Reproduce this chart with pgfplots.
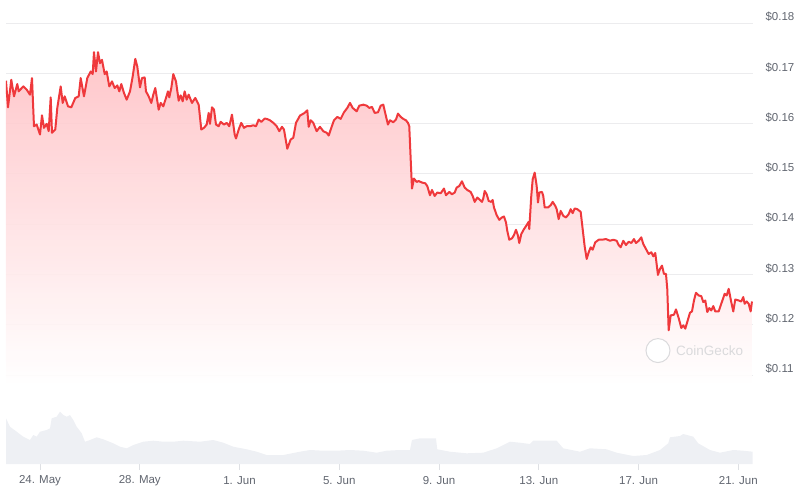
\documentclass[border=0pt]{standalone}
\usepackage{pgfplots}
\pgfplotsset{compat=1.18}
\usepackage{pgfplotstable}
\usepackage{fontspec}
\setmainfont{Liberation Sans}

\definecolor{pricered}{RGB}{239,57,60}
\definecolor{fillpink}{RGB}{255,192,196}
\definecolor{volgray}{RGB}{238,240,244}
\definecolor{gridgray}{RGB}{236,236,238}
\definecolor{labelgray}{RGB}{96,101,111}
\definecolor{tickgray}{RGB}{222,224,228}
\definecolor{markgray}{RGB}{218,218,220}

% day 0 = 24 May
\pgfplotstableread{
day price
-1.363 0.16851
-1.283 0.16323
-1.151 0.16871
-1.042 0.16541
-0.910 0.16786
-0.854 0.16640
-0.670 0.16739
-0.533 0.16673
-0.401 0.16574
-0.321 0.16905
-0.241 0.15947
-0.132 0.15980
0.000 0.15782
0.080 0.16164
0.160 0.15915
0.269 0.15994
0.349 0.15848
0.429 0.16521
0.481 0.15816
0.613 0.15881
0.694 0.16311
0.830 0.16739
0.910 0.16410
0.990 0.16541
1.123 0.16343
1.255 0.16323
1.416 0.16509
1.552 0.16541
1.632 0.16905
1.764 0.16541
1.897 0.16905
2.033 0.17036
2.113 0.16984
2.165 0.17420
2.245 0.17036
2.326 0.17420
2.406 0.17202
2.486 0.17267
2.594 0.16984
2.674 0.17036
2.779 0.16739
2.887 0.16838
2.995 0.16707
3.099 0.16758
3.180 0.16640
3.260 0.16786
3.368 0.16608
3.476 0.16475
3.609 0.16640
3.717 0.16937
3.821 0.17287
3.901 0.17135
4.010 0.16719
4.090 0.16905
4.198 0.16917
4.250 0.16640
4.358 0.16541
4.463 0.16410
4.543 0.16574
4.623 0.16707
4.759 0.16277
4.840 0.16410
4.944 0.16343
5.052 0.16509
5.132 0.16640
5.184 0.16521
5.265 0.16707
5.345 0.16984
5.453 0.16838
5.561 0.16455
5.642 0.16560
5.722 0.16442
5.802 0.16640
5.882 0.16475
5.962 0.16574
6.095 0.16410
6.227 0.16509
6.363 0.16376
6.467 0.15881
6.576 0.15915
6.684 0.15980
6.764 0.16212
6.816 0.15994
6.897 0.16323
6.977 0.16277
7.057 0.15980
7.165 0.15947
7.245 0.16034
7.378 0.15980
7.486 0.16014
7.590 0.15947
7.698 0.16178
7.807 0.15782
7.859 0.15703
7.967 0.15881
8.071 0.16014
8.179 0.15915
8.288 0.15947
8.420 0.15947
8.553 0.15966
8.661 0.15947
8.769 0.16079
8.873 0.16034
9.010 0.16099
9.090 0.16093
9.222 0.16065
9.355 0.16014
9.491 0.15947
9.595 0.15848
9.703 0.15935
9.783 0.15881
9.916 0.15499
10.052 0.15683
10.156 0.15717
10.265 0.16014
10.425 0.16158
10.613 0.16212
10.718 0.16263
10.774 0.15935
10.854 0.16065
10.958 0.16014
11.094 0.15848
11.227 0.15935
11.359 0.15848
11.496 0.15816
11.576 0.15762
11.680 0.15915
11.788 0.16065
11.921 0.16133
12.057 0.16093
12.189 0.16224
12.322 0.16311
12.430 0.16410
12.538 0.16311
12.698 0.16244
12.803 0.16356
12.963 0.16376
13.100 0.16356
13.204 0.16311
13.312 0.16331
13.420 0.16212
13.553 0.16224
13.661 0.16356
13.765 0.16376
13.873 0.16145
13.953 0.15980
14.034 0.16065
14.166 0.16026
14.274 0.16079
14.354 0.16198
14.463 0.16133
14.567 0.16093
14.675 0.16065
14.755 0.16014
14.807 0.15947
14.864 0.15287
14.916 0.14707
14.996 0.14905
15.104 0.14838
15.184 0.14857
15.317 0.14826
15.449 0.14812
15.529 0.14758
15.637 0.14574
15.718 0.14679
15.826 0.14560
15.930 0.14628
16.067 0.14614
16.199 0.14707
16.279 0.14574
16.411 0.14640
16.520 0.14594
16.628 0.14628
16.708 0.14727
16.812 0.14758
16.920 0.14851
17.029 0.14727
17.133 0.14679
17.269 0.14640
17.350 0.14560
17.430 0.14442
17.534 0.14529
17.642 0.14481
17.722 0.14442
17.774 0.14509
17.831 0.14659
17.911 0.14594
17.991 0.14461
18.095 0.14442
18.151 0.14481
18.204 0.14331
18.312 0.14178
18.416 0.14085
18.524 0.14133
18.605 0.14152
18.685 0.14034
18.737 0.13867
18.817 0.13689
18.925 0.13717
19.006 0.13782
19.086 0.13887
19.166 0.13768
19.218 0.13624
19.298 0.13802
19.407 0.13901
19.515 0.13980
19.595 0.14046
19.619 0.13901
19.699 0.14560
19.756 0.14891
19.836 0.15024
19.916 0.14758
19.968 0.14430
20.020 0.14628
20.128 0.14640
20.180 0.14560
20.237 0.14331
20.369 0.14331
20.477 0.14376
20.557 0.14442
20.662 0.14362
20.718 0.14297
20.798 0.14099
20.878 0.14263
20.982 0.14164
21.091 0.14133
21.199 0.14198
21.279 0.14297
21.359 0.14218
21.439 0.14311
21.544 0.14297
21.680 0.14244
21.760 0.13901
21.840 0.13558
21.921 0.13307
22.001 0.13440
22.081 0.13539
22.161 0.13491
22.265 0.13638
22.402 0.13689
22.534 0.13689
22.694 0.13703
22.855 0.13669
22.987 0.13689
23.123 0.13669
23.204 0.13584
23.284 0.13539
23.388 0.13669
23.496 0.13584
23.605 0.13650
23.709 0.13624
23.817 0.13703
23.897 0.13624
24.006 0.13669
24.110 0.13737
24.190 0.13604
24.298 0.13505
24.407 0.13406
24.511 0.13440
24.591 0.13360
24.671 0.13426
24.779 0.12990
24.860 0.13109
24.940 0.13174
25.020 0.13010
25.100 0.13010
25.152 0.12713
25.208 0.11887
25.289 0.12184
25.421 0.12198
25.501 0.12303
25.609 0.12133
25.714 0.11935
25.794 0.11986
25.874 0.11921
25.954 0.12054
26.063 0.12238
26.143 0.12263
26.223 0.12481
26.303 0.12634
26.411 0.12580
26.516 0.12568
26.596 0.12450
26.676 0.12481
26.756 0.12252
26.837 0.12331
26.917 0.12283
26.997 0.12370
27.077 0.12263
27.213 0.12263
27.317 0.12416
27.454 0.12614
27.534 0.12580
27.614 0.12713
27.718 0.12450
27.799 0.12263
27.879 0.12501
28.015 0.12481
28.119 0.12461
28.199 0.12549
28.256 0.12416
28.336 0.12461
28.416 0.12416
28.496 0.12263
28.548 0.12461
}\price

\pgfplotstableread{
day vol
-1.363 4.57
-1.203 3.73
-0.934 3.23
-0.670 2.73
-0.401 2.40
-0.269 2.90
-0.132 2.73
0.000 3.23
0.269 3.40
0.401 3.57
0.469 4.57
0.670 4.73
0.802 5.23
0.934 4.90
1.071 4.73
1.203 4.90
1.335 4.40
1.472 3.73
1.672 3.07
1.804 2.23
2.005 2.40
2.273 2.67
2.538 2.47
2.939 2.07
3.208 1.73
3.476 1.57
3.741 1.90
4.142 2.23
4.543 2.33
4.944 2.23
5.345 2.23
5.746 2.33
6.415 2.23
6.949 2.40
7.350 2.13
7.750 1.73
8.288 1.47
8.689 1.23
9.090 0.90
9.755 0.90
10.425 1.23
10.826 1.40
11.359 1.33
11.896 1.33
12.430 1.40
12.963 1.33
13.500 1.13
13.901 1.33
14.435 1.40
14.836 1.40
14.916 2.40
15.236 2.57
15.878 2.57
15.930 1.47
16.439 1.23
17.109 1.07
17.774 1.13
18.312 1.57
18.845 2.23
19.246 2.13
19.647 2.00
19.780 2.33
20.718 2.33
20.982 1.57
21.652 1.23
22.053 1.57
22.722 1.47
23.123 1.13
23.789 0.80
24.326 0.90
24.860 1.40
25.192 2.07
25.260 2.67
25.661 2.80
25.794 3.00
26.195 2.73
26.395 2.07
26.864 1.40
27.265 1.13
27.799 1.40
28.199 1.33
28.576 1.23
}\volume

\begin{document}
\begin{tikzpicture}
\path[use as bounding box] (0,0) rectangle (808pt,488pt);

% price pane
\begin{axis}[
  at={(6pt,103pt)}, anchor=south west,
  scale only axis, width=747pt, height=362pt,
  xmin=-1.363, xmax=28.59, ymin=0.108, ymax=0.18,
  axis line style={draw=none},
  xtick=\empty,
  ytick={0.11,0.12,0.13,0.14,0.15,0.16,0.17,0.18},
  yticklabels={\$0.11,\$0.12,\$0.13,\$0.14,\$0.15,\$0.16,\$0.17,\$0.18},
  yticklabel pos=right,
  major tick length=0pt,
  ymajorgrids,
  grid style={gridgray, line width=0.8pt},
  yticklabel style={anchor=west, xshift=9pt, yshift=6pt,
    font=\fontsize{11.5}{13}\selectfont, text=labelgray},
]
% gradient area under the price line, closed down to the pane floor
\addplot[draw=none, top color=fillpink, bottom color=white, opacity=0.9]
  table[x=day, y=price] {\price}
  -- (axis cs:28.548,0.108) -- (axis cs:-1.363,0.108) -- cycle;
\addplot[pricered, line width=2pt, line join=round] table[x=day, y=price] {\price};

% watermark
\draw[markgray, fill=white, line width=1pt] (axis cs:24.78,0.11485) circle[radius=12pt];
\node[text=markgray, anchor=west, font=\fontsize{13.5}{15}\selectfont]
  at (axis cs:25.37,0.11485) {CoinGecko};
\end{axis}

% volume pane
\begin{axis}[
  at={(6pt,24pt)}, anchor=south west,
  scale only axis, width=747pt, height=59pt,
  xmin=-1.363, xmax=28.59, ymin=0, ymax=5.9,
  axis line style={draw=none},
  ytick=\empty,
  xtick pos=left,
  xtick={0,4,8,12,16,20,24,28},
  xticklabels={24. May,28. May,1. Jun,5. Jun,9. Jun,13. Jun,17. Jun,21. Jun},
  tick align=outside, major tick length=6pt,
  xtick style={draw=tickgray, line width=0.8pt},
  xticklabel style={anchor=center, yshift=-11pt,
    font=\fontsize{11.5}{13}\selectfont, text=labelgray},
]
\addplot[fill=volgray, draw=none] table[x=day, y=vol] {\volume} \closedcycle;
\end{axis}
\end{tikzpicture}
\end{document}
